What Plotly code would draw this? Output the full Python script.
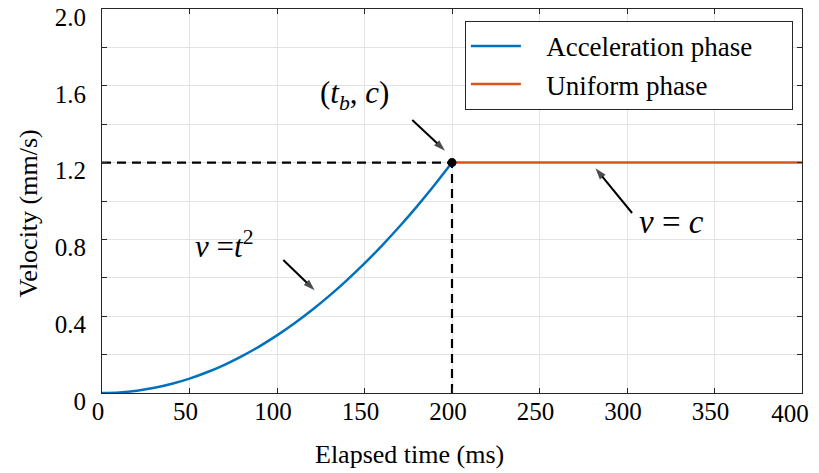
import plotly.graph_objects as go

# ---- data ----
time_accel = [0, 10, 20, 30, 40, 50, 60, 70, 80, 90, 100,
              110, 120, 130, 140, 150, 160, 170, 180, 190, 200]
vel_accel = [0.0, 0.003, 0.012, 0.027, 0.048, 0.075, 0.108, 0.147, 0.192, 0.243, 0.300,
             0.363, 0.432, 0.507, 0.588, 0.675, 0.768, 0.867, 0.972, 1.083, 1.200]
time_uniform = [200, 400]
vel_uniform = [1.2, 1.2]
t_b = 200
c_val = 1.2
x_tick_vals = [0, 50, 100, 150, 200, 250, 300, 350]
x_tick_text = ["0", "50", "100", "150", "200", "250", "300", "350"]
x_last_tick_vals = [400]
x_last_tick_text = ["400"]
y_tick_vals = [0, 0.4, 0.8, 1.2, 1.6, 2.0]
y_tick_text = ["0", "0.4", "0.8", "1.2", "1.6", "2.0"]
legend_names = ["\u00a0\u00a0\u00a0Acceleration phase\u00a0\u00a0\u00a0\u00a0\u00a0",
                "\u00a0\u00a0\u00a0Uniform phase"]

# annotation arrows (tail -> head), in data units
arrow_tails_x = [177.3, 103.6, 302.9]
arrow_tails_y = [1.422, 0.693, 0.9375]
arrow_heads_x = [196.0, 121.5, 282.0]
arrow_heads_y = [1.262, 0.535, 1.170]

BLUE = "#0072BD"
ORANGE = "#D95319"
FONT = "Liberation Serif"

fig = go.Figure()

# dashed guide lines to (t_b, c)
fig.add_trace(go.Scatter(x=[0, t_b], y=[c_val, c_val], mode="lines",
                         line=dict(color="black", width=2.2, dash="9px,6px"),
                         showlegend=False, hoverinfo="skip"))
fig.add_trace(go.Scatter(x=[t_b, t_b], y=[0, c_val], mode="lines",
                         line=dict(color="black", width=2.2, dash="9px,6px"),
                         showlegend=False, hoverinfo="skip"))

fig.add_trace(go.Scatter(x=time_accel, y=vel_accel, mode="lines",
                         name=legend_names[0], line=dict(color=BLUE, width=2.5, shape="spline")))
fig.add_trace(go.Scatter(x=time_uniform, y=vel_uniform, mode="lines",
                         name=legend_names[1], line=dict(color=ORANGE, width=2.5)))

# arrows as line + arrow marker
for tx, ty, hx, hy in zip(arrow_tails_x, arrow_tails_y, arrow_heads_x, arrow_heads_y):
    fig.add_trace(go.Scatter(x=[tx, hx], y=[ty, hy], mode="lines+markers",
                             line=dict(color="black", width=2),
                             marker=dict(symbol=["circle", "arrow"], size=[0, 12],
                                         angleref="previous", color="black",
                                         line=dict(width=0)),
                             showlegend=False, hoverinfo="skip"))

# the (t_b, c) point, drawn on the overlaying x axis (same range)
fig.add_trace(go.Scatter(x=[t_b], y=[c_val], mode="markers", xaxis="x2",
                         marker=dict(color="black", size=9), showlegend=False))

ann_font = dict(family=FONT, size=31, color="black")

annotations = [
    dict(x=144.2, y=1.552, xref="x", yref="y", showarrow=False,
         text="(<i>t</i><sub><i>b</i></sub>, <i>c</i>)", font=ann_font),
    dict(x=69.9, y=0.771, xref="x", yref="y", showarrow=False,
         text="<i>v</i> =<i>t</i><sup>2</sup>", font=ann_font),
    dict(x=325.2, y=0.891, xref="x", yref="y", showarrow=False,
         text="<i>v</i> = <i>c</i>", font=dict(family=FONT, size=33, color="black")),
    dict(x=0.439, y=-0.161, xref="paper", yref="paper", showarrow=False,
         xanchor="center", yanchor="middle",
         text="Elapsed time (ms)", font=dict(family=FONT, size=26, color="black")),
    dict(x=-0.105, y=0.466, xref="paper", yref="paper", showarrow=False, textangle=-90,
         xanchor="center", yanchor="middle",
         text="Velocity (mm/s)", font=dict(family=FONT, size=26, color="black")),
]

tick_font = dict(family=FONT, size=25, color="black")
axis_common = dict(showline=True, linecolor="#262626", linewidth=1, mirror="ticks",
                   ticks="inside", ticklen=5, tickcolor="#262626", automargin=False,
                   ticklabeloverflow="allow",
                   showgrid=True, gridcolor="#e3e3e3", gridwidth=1, zeroline=False,
                   tickfont=tick_font)

# the page body has an 8px default margin, so the figure is sized to end at the window edge
fig.update_layout(
    width=811, height=465,
    margin=dict(l=93.5, r=17, t=1, b=80),
    paper_bgcolor="white", plot_bgcolor="white",
    font=dict(family=FONT, color="black"),
    annotations=annotations,
    legend=dict(x=0.987, xanchor="right", y=0.969, yanchor="top",
                bgcolor="white", bordercolor="#262626", borderwidth=1,
                font=dict(family=FONT, size=27, color="black"),
                itemwidth=50),
    xaxis=dict(range=[0, 400], tickvals=x_tick_vals, ticktext=x_tick_text,
               ticklabelstandoff=-4, ticklabelshift=-4, **axis_common),
    xaxis2=dict(range=[0, 400], overlaying="x", anchor="y", side="bottom",
                tickvals=x_last_tick_vals, ticktext=x_last_tick_text,
                ticklabelstandoff=3, ticklabelshift=-12, ticks="",
                showline=False, showgrid=False, zeroline=False, automargin=False,
                ticklabeloverflow="allow", tickfont=tick_font),
    yaxis=dict(range=[0, 2.0], tickvals=y_tick_vals, ticktext=y_tick_text,
               ticklabelstandoff=10, ticklabelshift=8,
               minor=dict(dtick=0.2, showgrid=True, gridcolor="#e3e3e3", ticks="inside",
                          ticklen=5, tickcolor="#262626"),
               **axis_common),
)

fig.write_html("out.html")
